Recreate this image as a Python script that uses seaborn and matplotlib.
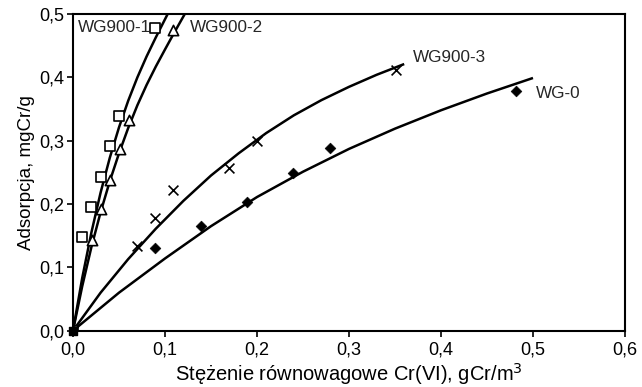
import matplotlib
matplotlib.use("Agg")
import matplotlib.pyplot as plt
import seaborn as sns

# ---- measured points ----
wg1_x = [0.0, 0.0101, 0.0196, 0.0301, 0.0402, 0.0503, 0.0891]
wg1_y = [0.0, 0.1485, 0.195, 0.242, 0.291, 0.339, 0.4777]

wg2_x = [0.0, 0.0203, 0.0301, 0.0402, 0.0511, 0.0612, 0.109]
wg2_y = [0.0, 0.143, 0.192, 0.238, 0.2866, 0.332, 0.474]

wg3_x = [0.0, 0.0692, 0.0891, 0.109, 0.170, 0.1997, 0.351]
wg3_y = [0.0, 0.1338, 0.1785, 0.222, 0.2565, 0.300, 0.4118]

wg0_x = [0.0, 0.0891, 0.1388, 0.1895, 0.2395, 0.2793, 0.4815]
wg0_y = [0.0, 0.130, 0.165, 0.2038, 0.2496, 0.288, 0.379]

# ---- fitted curves ----
c1_x = [0.0, 0.01, 0.02, 0.03, 0.04, 0.05, 0.06, 0.07, 0.08, 0.09, 0.1029]
c1_y = [0.0, 0.083, 0.155, 0.218, 0.273, 0.321, 0.363, 0.400, 0.433, 0.463, 0.500]

c2_x = [0.0, 0.01, 0.02, 0.03, 0.04, 0.05, 0.06, 0.07, 0.08, 0.09, 0.10, 0.11, 0.1215]
c2_y = [0.0, 0.070, 0.132, 0.187, 0.236, 0.280, 0.320, 0.356, 0.388, 0.417, 0.444, 0.4705, 0.500]

c3_x = [0.0, 0.03, 0.06, 0.09, 0.12, 0.15, 0.18, 0.21, 0.24, 0.27, 0.30, 0.33, 0.36]
c3_y = [0.0, 0.060, 0.113, 0.161, 0.205, 0.245, 0.280, 0.312, 0.340, 0.364, 0.385, 0.404, 0.421]

c0_x = [0.0, 0.05, 0.10, 0.15, 0.20, 0.25, 0.30, 0.35, 0.40, 0.45, 0.50]
c0_y = [0.0, 0.060, 0.114, 0.165, 0.211, 0.251, 0.287, 0.319, 0.348, 0.3745, 0.399]

xticks = [0.0, 0.1, 0.2, 0.3, 0.4, 0.5, 0.6]
xtick_labels = ["0,0", "0,1", "0,2", "0,3", "0,4", "0,5", "0,6"]
yticks = [0.0, 0.1, 0.2, 0.3, 0.4, 0.5]
ytick_labels = ["0,0", "0,1", "0,2", "0,3", "0,4", "0,5"]

series_labels = ["WG900-1", "WG900-2", "WG900-3", "WG-0"]

sns.set_theme(style="ticks")
plt.rcParams["font.family"] = ["Liberation Sans", "DejaVu Sans"]

fig = plt.figure(figsize=(6.42, 3.87), dpi=100)
ax = fig.add_axes([0.1137, 0.1455, 0.9735 - 0.1137, 0.9638 - 0.1455])

lw = 1.8
for cx, cy in [(c1_x, c1_y), (c2_x, c2_y), (c3_x, c3_y), (c0_x, c0_y)]:
    sns.lineplot(x=cx, y=cy, ax=ax, color="black", linewidth=lw, sort=False,
                 estimator=None, legend=False, solid_joinstyle="round",
                 solid_capstyle="butt")

sns.scatterplot(x=wg1_x, y=wg1_y, ax=ax, marker="s", s=55, facecolor="white",
                edgecolor="black", linewidth=1.2, zorder=5, legend=False)
sns.scatterplot(x=wg2_x, y=wg2_y, ax=ax, marker="^", s=55, facecolor="white",
                edgecolor="black", linewidth=1.2, zorder=5, legend=False)
sns.scatterplot(x=wg3_x, y=wg3_y, ax=ax, marker="x", s=50, color="black",
                linewidth=1.2, zorder=5, legend=False)
sns.scatterplot(x=wg0_x, y=wg0_y, ax=ax, marker="D", s=30, color="black",
                edgecolor="black", zorder=5, legend=False)
# origin marker
ax.scatter([0.0], [0.0], marker="s", s=40, color="black", zorder=6, clip_on=False)

ax.set_xlim(0, 0.6)
ax.set_ylim(0, 0.5)
ax.set_xticks(xticks)
ax.set_xticklabels(xtick_labels)
ax.set_yticks(yticks)
ax.set_yticklabels(ytick_labels)
ax.tick_params(axis="both", direction="out", length=4, width=1.2,
               labelsize=13, colors="black", pad=2)
ax.tick_params(axis="x", pad=3.5)

for sp in ax.spines.values():
    sp.set_visible(True)
    sp.set_color("black")
    sp.set_linewidth(1.5)

ax.set_xlabel("Stężenie równowagowe Cr(VI), gCr/m$^3$", fontsize=14.5, labelpad=2, color="black")
ax.set_ylabel("Adsorpcja, mgCr/g", fontsize=13.5, labelpad=3, color="black")

tfs = 12.3
ax.text(0.0054, 0.478, series_labels[0], fontsize=tfs, va="center", ha="left")
ax.text(0.127, 0.478, series_labels[1], fontsize=tfs, va="center", ha="left")
ax.text(0.3696, 0.431, series_labels[2], fontsize=tfs, va="center", ha="left")
ax.text(0.503, 0.374, series_labels[3], fontsize=tfs, va="center", ha="left")

ax.set_facecolor("white")
fig.patch.set_facecolor("white")
fig.savefig("out.png", dpi=100)
